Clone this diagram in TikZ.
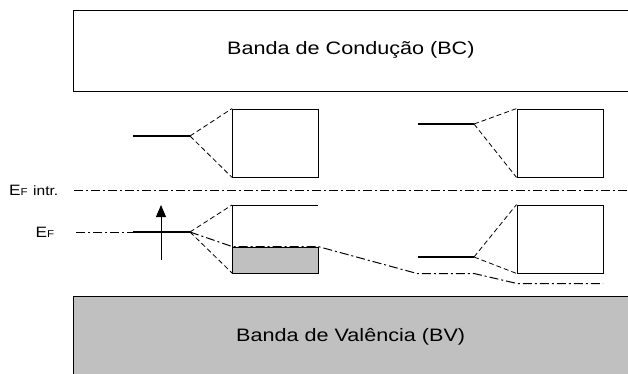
\documentclass[tikz,border=0pt]{standalone}
\usepackage{fontspec}
\setmainfont{Liberation Sans}
\usetikzlibrary{arrows.meta}
\definecolor{cinza}{RGB}{192,192,192}
\tikzset{
	nivel/.style={line width=1.4pt},
	borda/.style={line width=0.9pt},
	caixa/.style={draw, line width=0.9pt, minimum width=86pt, minimum height=68pt, inner sep=0pt},
	tracejado/.style={line width=0.8pt, dash pattern=on 5pt off 3pt},
	tracoponto/.style={line width=1pt, dash pattern=on 9pt off 3pt on 2pt off 3pt},
	rotulo/.style={anchor=base west, inner sep=0pt},
}
\newcommand{\grande}[1]{\scalebox{1.2}[1]{\fontsize{18}{22}\selectfont #1}}
\newcommand{\letraE}{\scalebox{1.15}[1]{{\fontsize{15}{16}\selectfont E}{\fontsize{10}{11}\selectfont F}}}

\begin{document}
\begin{tikzpicture}[x=1pt, y=-1pt]
	\useasboundingbox (0,0) rectangle (628,374);
	\clip (0,0) rectangle (628,374);
	% Bandas
	\draw[borda] (73,10) rectangle (650,91.5);
	\node[rotulo] (bc) at (227,54.5) {\grande{Banda de Condução (BC)}};
	\filldraw[borda, draw=black, fill=cinza] (73,296) rectangle (650,400);
	\node[rotulo] (bv) at (236,341) {\grande{Banda de Valência (BV)}};

	% Niveis de Fermi
	\node[rotulo] (efintr) at (9,195) {\letraE};
	\node[rotulo] (intr) at (33,195) {\scalebox{1.15}[1]{\fontsize{13.5}{14}\selectfont intr.}};
	\node[rotulo] (ef) at (35.5,237) {\letraE};
	\coordinate (ei0) at (74,190.5);
	\coordinate (ei1) at (640,190.5);
	\draw[tracoponto] (ei0) -- (ei1);

	% Nivel superior esquerdo
	\coordinate (n1a) at (133,136);
	\coordinate (n1) at (190,136);
	\node[caixa] (cx1) at (275.5,143) {};
	\draw[nivel] (n1a) -- (n1);
	\draw[tracejado] (n1) -- (cx1.north west);
	\draw[tracejado] (n1) -- (cx1.south west);

	% Nivel superior direito
	\coordinate (n2a) at (418,124);
	\coordinate (n2) at (474,124);
	\node[caixa] (cx2) at (560,143) {};
	\draw[nivel] (n2a) -- (n2);
	\draw[tracejado] (n2) -- (cx2.north west);
	\draw[tracejado] (n2) -- (cx2.south west);

	% Nivel inferior esquerdo (E_F)
	\coordinate (ef0) at (76,232);
	\coordinate (n3a) at (133,232);
	\coordinate (n3) at (190,232);
	\coordinate (c3a) at (232,205);
	\coordinate (c3b) at (318,205);
	\coordinate (c3c) at (232,273);
	\filldraw[borda, draw=black, fill=cinza] (232,247) rectangle (318,273);
	\draw[borda] (c3b) -- (c3a) -- (c3c);
	\draw[tracoponto] (ef0) -- (n3a);
	\draw[nivel] (n3a) -- (n3);
	\draw[tracejado] (n3) -- (c3a);
	\draw[tracejado] (n3) -- (c3c);
	\coordinate (s0) at (161,260);
	\coordinate (s1) at (161,205);
	\draw[borda, -{Triangle[length=12pt, width=10pt]}] (s0) -- (s1);

	% Nivel inferior direito
	\coordinate (n4a) at (418,257);
	\coordinate (n4) at (474,257);
	\node[caixa] (cx4) at (560,239) {};
	\draw[nivel] (n4a) -- (n4);
	\draw[tracejado] (n4) -- (cx4.north west);
	\draw[tracejado] (n4) -- (cx4.south west);

	% E_F deslocado
	\draw[tracoponto] (n3) -- (232,246.5) -- (318,246.5) -- (417,273.5) -- (474,273.5) -- (517,283.5) -- (603,283.5);
\end{tikzpicture}
\end{document}
